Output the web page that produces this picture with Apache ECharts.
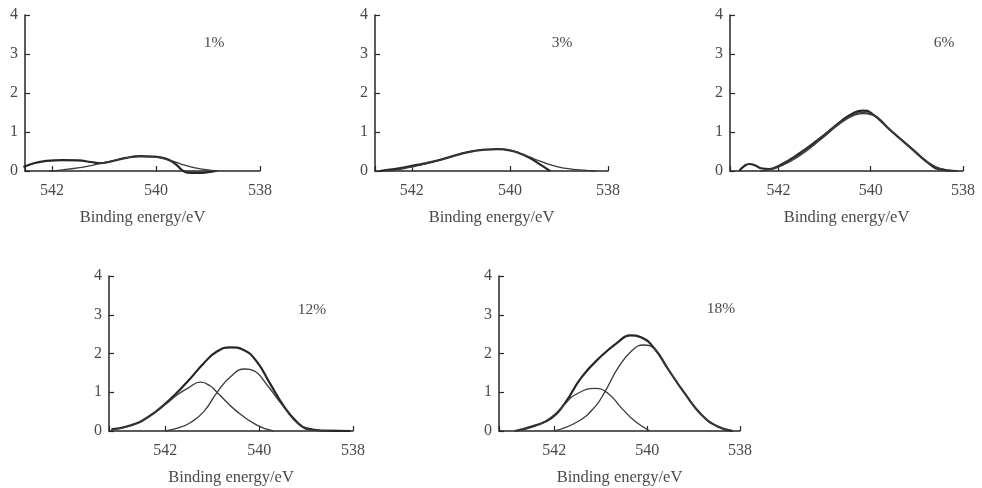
<!DOCTYPE html>
<html>
<head>
<meta charset="UTF-8">
<title>XPS O1s fits</title>
<script src="https://cdn.jsdelivr.net/npm/echarts@6/dist/echarts.min.js"></script>
<style>
  body { margin: 0; background: #fff; }
  #main { width: 982px; height: 488px; }
</style>
</head>
<body>
<div id="main"></div>
<script>
// panel labels
const panelLabels = ['1%', '3%', '6%', '12%', '18%'];
const xTicks = [538, 540, 542];
const yTicks = [0, 1, 2, 3, 4];

// 1%
const p1Data = [[542.55,0.1],[542.35,0.2],[542.1,0.26],[541.8,0.28],[541.5,0.27],[541.25,0.23],[541.08,0.2],[540.85,0.25],[540.6,0.33],[540.3,0.38],[540.05,0.37],[539.85,0.33],[539.7,0.25],[539.6,0.15],[539.5,0.02],[539.4,-0.04],[539.2,-0.05],[539.0,-0.03],[538.85,0]];
const p1Fit = [[542.05,0],[541.8,0.03],[541.5,0.08],[541.25,0.14],[541.05,0.2],[540.85,0.26],[540.6,0.33],[540.3,0.37],[540.05,0.36],[539.85,0.32],[539.65,0.24],[539.45,0.15],[539.25,0.08],[539.0,0.03],[538.8,0]];

// 3%
const p2Data = [[542.65,0],[542.4,0.04],[542.2,0.08],[542.0,0.13],[541.75,0.19],[541.5,0.26],[541.25,0.35],[541.0,0.44],[540.75,0.51],[540.5,0.55],[540.25,0.56],[540.0,0.53],[539.8,0.45],[539.6,0.34],[539.45,0.22],[539.3,0.1],[539.18,0]];
const p2Fit = [[542.55,0],[542.3,0.03],[542.1,0.08],[541.9,0.13],[541.6,0.22],[541.3,0.33],[541.0,0.44],[540.75,0.51],[540.5,0.55],[540.25,0.56],[540.0,0.53],[539.8,0.46],[539.6,0.36],[539.4,0.26],[539.2,0.17],[539.0,0.1],[538.75,0.05],[538.5,0.02],[538.25,0]];

// 6%
const p3Data = [[542.85,0],[542.75,0.12],[542.63,0.18],[542.5,0.14],[542.38,0.07],[542.2,0.05],[542.0,0.12],[541.58,0.41],[541.07,0.86],[540.64,1.28],[540.35,1.5],[540.18,1.55],[539.98,1.48],[539.55,1.02],[539.12,0.58],[538.75,0.2],[538.54,0.05],[538.15,0]];
const p3Fit = [[542.4,0],[542.2,0.04],[542.0,0.1],[541.58,0.36],[541.07,0.82],[540.64,1.24],[540.35,1.43],[540.18,1.47],[539.98,1.44],[539.55,1.02],[539.12,0.58],[538.75,0.21],[538.5,0.06],[538.1,0]];
const p3Peak = [[542.3,0],[542.0,0.14],[541.58,0.44],[541.07,0.88],[540.64,1.26],[540.35,1.46],[540.18,1.5],[539.98,1.46],[539.55,1.03],[539.12,0.59],[538.75,0.22],[538.5,0.07],[538.1,0]];

// 12%
const p4Data = [[543.15,0.04],[542.73,0.15],[542.38,0.35],[541.95,0.76],[541.53,1.27],[541.18,1.75],[540.9,2.05],[540.61,2.16],[540.33,2.09],[540.05,1.79],[539.77,1.23],[539.49,0.67],[539.2,0.24],[538.99,0.07],[538.6,0.01],[538.05,0]];
const p4Peak1 = [[543.15,0.03],[542.73,0.14],[542.38,0.34],[541.95,0.73],[541.75,0.93],[541.5,1.12],[541.25,1.26],[541.04,1.16],[540.9,1.0],[540.47,0.5],[540.05,0.15],[539.7,0]];
const p4Peak2 = [[542.0,0],[541.72,0.08],[541.46,0.22],[541.18,0.5],[540.9,0.99],[540.61,1.4],[540.3,1.6],[540.12,1.56],[539.84,1.2],[539.49,0.64],[539.13,0.14],[538.85,0.02],[538.5,0]];

// 18%
const p5Data = [[542.85,0],[542.42,0.14],[542.06,0.33],[541.77,0.72],[541.41,1.39],[540.98,1.94],[540.62,2.3],[540.37,2.47],[540.12,2.41],[539.83,2.11],[539.55,1.6],[539.19,0.97],[538.83,0.42],[538.47,0.11],[538.15,0]];
const p5Peak1 = [[542.85,0],[542.42,0.12],[542.06,0.36],[541.75,0.72],[541.56,0.93],[541.12,1.1],[540.84,0.97],[540.55,0.59],[540.26,0.25],[539.94,0]];
const p5Peak2 = [[542.0,0],[541.48,0.25],[541.12,0.63],[540.91,1.01],[540.62,1.64],[540.33,2.07],[540.08,2.22],[539.83,2.1],[539.55,1.6],[539.19,0.97],[538.83,0.42],[538.47,0.11],[538.15,0]];

const xMax = [542.52, 542.75, 543.05, 543.2, 543.19];
const panelData = [[p1Data], [p2Data], [p3Data], [p4Data], [p5Data]];
const panelFits = [[p1Fit], [p2Fit], [p3Fit, p3Peak], [p4Peak1, p4Peak2], [p5Peak1, p5Peak2]];

// layout
const boxes = [
  { left: 25,  top: 15,  width: 235, height: 156 },
  { left: 375, top: 15,  width: 233, height: 156 },
  { left: 730, top: 15,  width: 233, height: 156 },
  { left: 109, top: 276, width: 244, height: 155 },
  { left: 499, top: 276, width: 241, height: 155 }
];
const labelPos = [[214, 43], [562, 43], [944, 43], [312, 310], [721, 309]];

const font = 'Liberation Serif';
const ink = '#262626';
const textCol = '#4a4a4a';

const chart = echarts.init(document.getElementById('main'));

const grid = [], xAxis = [], yAxis = [], series = [], graphic = [];
boxes.forEach((b, i) => {
  grid.push(Object.assign({}, b));
  xAxis.push({
    type: 'value', gridIndex: i, inverse: true,
    min: 538, max: xMax[i], interval: 2,
    name: 'Binding energy/eV', nameLocation: 'middle', nameGap: 38,
    nameTextStyle: { fontFamily: font, fontSize: 16.5, color: textCol },
    axisLine: { lineStyle: { color: ink, width: 1.5 } },
    axisTick: { inside: true, length: 5, lineStyle: { color: ink, width: 1.2 } },
    axisLabel: {
      margin: 12, fontFamily: font, fontSize: 16, color: textCol,
      showMinLabel: true, showMaxLabel: true,
      formatter: v => xTicks.indexOf(Math.round(v * 1000) / 1000) >= 0 ? String(v) : ''
    },
    splitLine: { show: false }
  });
  yAxis.push({
    type: 'value', gridIndex: i, min: 0, max: 4, interval: 1,
    axisLine: { show: true, lineStyle: { color: ink, width: 1.5 } },
    axisTick: { show: true, inside: true, length: 5, lineStyle: { color: ink, width: 1.2 } },
    axisLabel: {
      margin: 7, fontFamily: font, fontSize: 16, color: textCol,
      formatter: v => yTicks.indexOf(v) >= 0 ? String(v) : ''
    },
    splitLine: { show: false }
  });
  panelData[i].forEach(d => {
    series.push({
      type: 'line', xAxisIndex: i, yAxisIndex: i, data: d,
      smooth: 0.5, showSymbol: false, clip: false,
      lineStyle: { color: ink, width: 2.2 }
    });
  });
  panelFits[i].forEach(d => {
    series.push({
      type: 'line', xAxisIndex: i, yAxisIndex: i, data: d,
      smooth: 0.5, showSymbol: false, clip: false,
      lineStyle: { color: '#3a3a3a', width: 1.3 }
    });
  });
  graphic.push({
    type: 'text', x: labelPos[i][0], y: labelPos[i][1],
    style: {
      text: panelLabels[i], fill: textCol, align: 'center', verticalAlign: 'middle',
      font: '15.5px "Liberation Serif"'
    }
  });
});

chart.setOption({
  animation: false,
  backgroundColor: '#fff',
  grid: grid,
  xAxis: xAxis,
  yAxis: yAxis,
  series: series,
  graphic: graphic
});
</script>
</body>
</html>
